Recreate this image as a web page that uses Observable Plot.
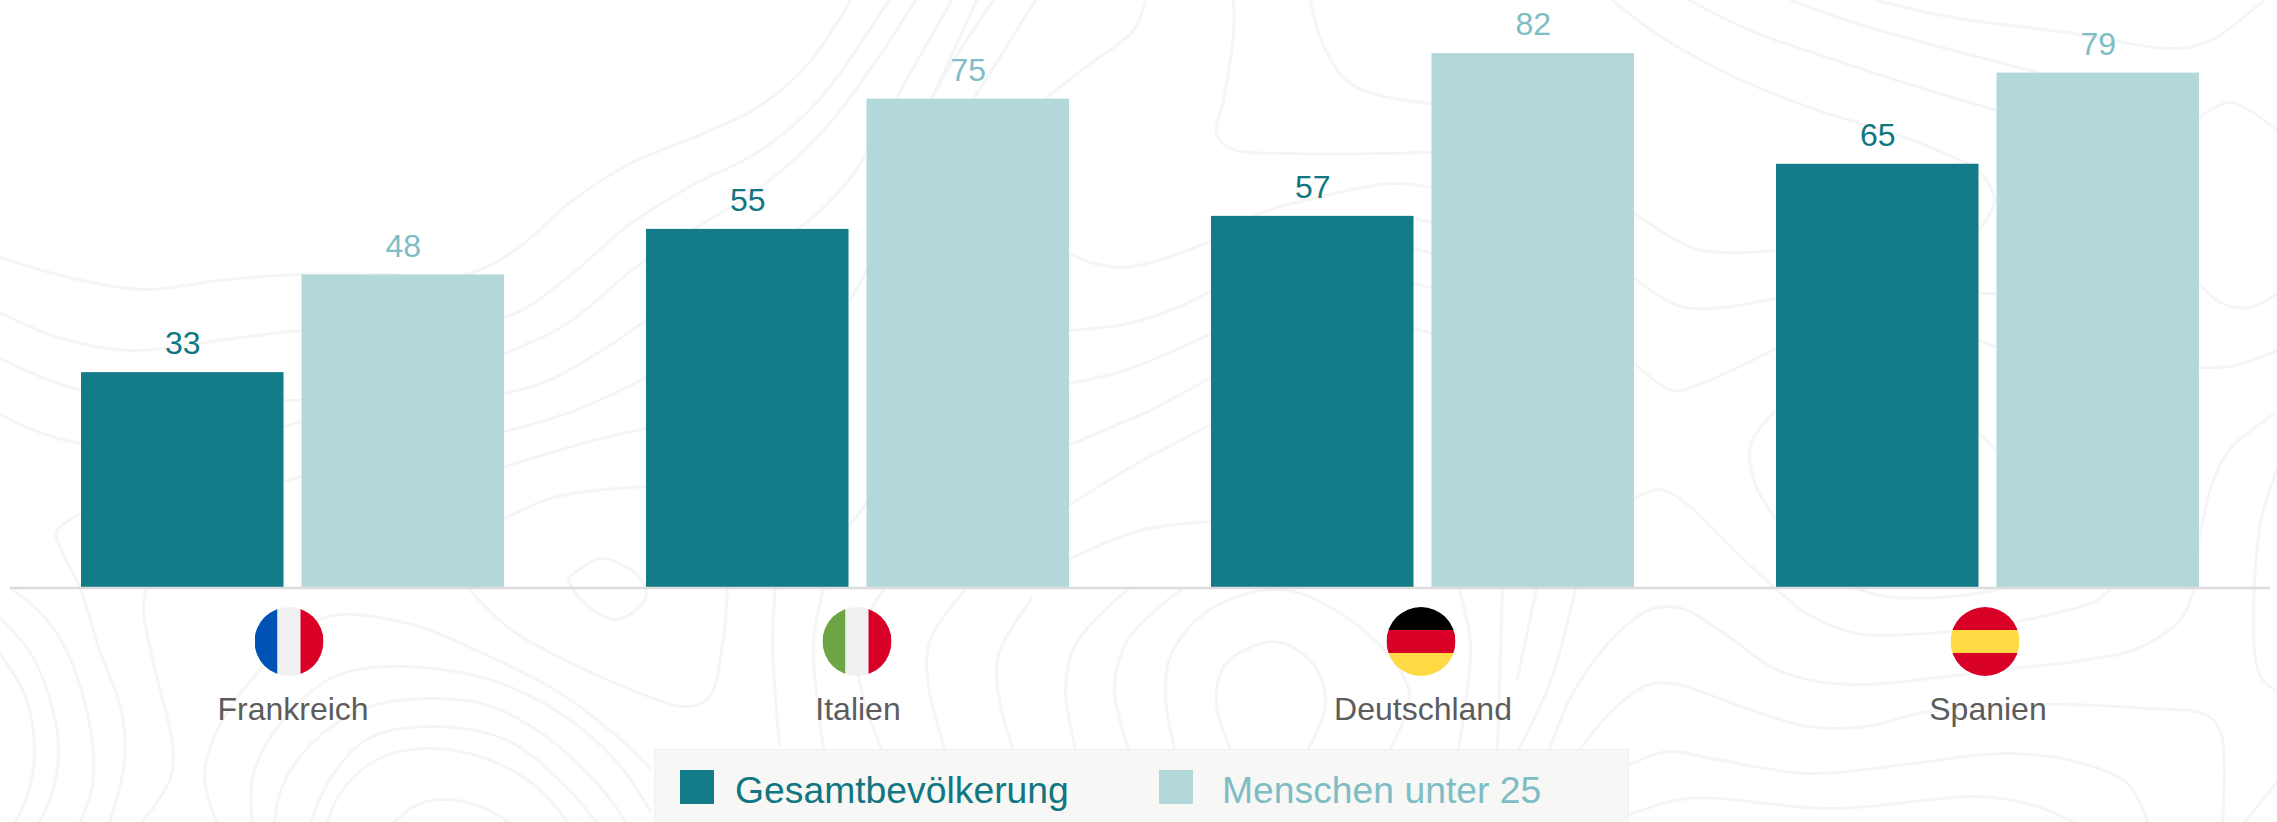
<!DOCTYPE html>
<html lang="de">
<head>
<meta charset="utf-8">
<script src="https://cdn.jsdelivr.net/npm/d3@7"></script>
<script src="https://cdn.jsdelivr.net/npm/@observablehq/plot@0.6"></script>
<style>
  html, body { margin: 0; padding: 0; width: 2277px; height: 822px; overflow: hidden; background: #fff; }
  #wrap { position: relative; width: 2277px; height: 822px; overflow: hidden; font-family: "Liberation Sans", Arial, sans-serif; }
  #wrap svg { display: block; position: absolute; left: 0; top: 0; }
  #legend { position: absolute; left: 654px; top: 749px; width: 975px; height: 73px; background: #f7f7f5; border: 1px solid #f0f0ee; border-bottom: none; box-sizing: border-box; }
  .sw { position: absolute; width: 34px; height: 34px; top: 20px; }
  .lt { position: absolute; top: 14px; font-size: 37.3px; line-height: 52px; white-space: nowrap; }
</style>
</head>
<body>
<div id="wrap"></div>
<script>
const countries = ["Frankreich", "Italien", "Deutschland", "Spanien"];
const gesamt = [33, 55, 57, 65];
const unter25 = [48, 75, 82, 79];
const seriesNames = ["Gesamtbevölkerung", "Menschen unter 25"];
const barColors = ["#147b88", "#b3d8da"];
const textColors = ["#0f7682", "#7fbdc5"];
const flagStripes = {
  Frankreich: ["v", "#0052b4", "#f0f0f0", "#d80027"],
  Italien: ["v", "#6da544", "#f0f0f0", "#d80027"],
  Deutschland: ["h", "#000000", "#d80027", "#ffda44"],
  Spanien: ["h", "#d80027", "#ffda44", "#d80027"]
};
const flagNudge = [-4, -1, -2, -3];

// decorative topographic background (page pixels)
const contours = [
  [[0,257],[73,278],[145,289],[218,280],[300,274],[388,274],[465,274],[514,250],[572,200],[630,163],[703,133],[760,105],[808,63],[850,0]],
  [[0,312],[58,337],[131,350],[218,340],[300,330],[504,317],[567,277],[625,227],[688,187],[760,150],[818,100],[888,0]],
  [[504,393],[548,380],[606,347],[650,317],[760,245],[799,227],[850,177],[896,97],[951,0]],
  [[504,353],[567,323],[635,267],[703,223],[760,187],[823,130],[876,60],[915,0]],
  [[0,358],[82,390],[300,400]],
  [[850,300],[895,210],[932,97],[993,0]],
  [[932,97],[976,0]],
  [[974,97],[1035,0]],
  [[1046,97],[1090,63],[1133,30],[1145,0]],
  [[0,414],[29,428],[80,443],[200,445],[301,421]],
  [[504,431],[572,411],[646,377]],
  [[504,466],[601,438],[645,428]],
  [[284,481],[301,476]],
  [[504,518],[557,496],[645,486]],
  [[567,578],[601,558],[640,578],[645,598],[616,619],[582,601],[567,578]],
  [[80,513],[56,531],[63,554],[80,588],[97,644],[121,711],[124,761],[109,822]],
  [[10,588],[39,611],[63,644],[82,694],[92,744],[92,784],[80,822]],
  [[0,618],[29,651],[48,694],[58,744],[53,788],[39,822]],
  [[0,654],[24,694],[34,744],[29,788],[15,822]],
  [[145,591],[143,611],[155,671],[172,744],[170,778],[141,822]],
  [[216,822],[204,778],[213,738],[252,678],[310,624],[339,614],[412,624],[485,654],[557,691],[611,731],[650,768]],
  [[252,822],[252,778],[276,728],[330,678],[388,666],[485,678],[557,711],[616,761],[650,811]],
  [[274,822],[281,788],[310,744],[364,708],[427,698],[485,704],[548,738],[606,794],[625,822]],
  [[310,822],[330,778],[368,738],[436,726],[509,741],[567,788],[596,822]],
  [[327,822],[339,794],[373,761],[422,748],[485,758],[538,788],[567,822]],
  [[393,822],[417,804],[446,799],[485,808],[509,822]],
  [[468,588],[509,628],[582,668],[654,698],[683,706],[708,698],[722,644],[727,588]],
  [[775,588],[772,644],[779,744]],
  [[823,588],[813,644],[823,748]],
  [[884,588],[857,638],[862,694],[881,748]],
  [[966,588],[930,638],[927,678],[944,748]],
  [[1031,598],[998,654],[998,694],[1012,748]],
  [[1128,588],[1075,644],[1065,688],[1075,748]],
  [[1182,588],[1128,638],[1114,688],[1128,748]],
  [[1174,748],[1165,694],[1172,651],[1211,608],[1279,589],[1332,608],[1385,651],[1409,694],[1390,748]],
  [[1230,748],[1216,704],[1225,664],[1274,641],[1313,664],[1325,704],[1308,748]],
  [[1458,588],[1470,644],[1458,748]],
  [[1502,588],[1497,748]],
  [[1070,444],[1148,411]],
  [[1070,504],[1128,468],[1211,424]],
  [[1070,558],[1140,530],[1211,521]],
  [[850,524],[867,501]],
  [[1069,253],[1090,262],[1124,267],[1157,260],[1211,240],[1259,213],[1317,197],[1390,183],[1431,187]],
  [[1069,330],[1128,323],[1177,307],[1211,290]],
  [[1069,383],[1124,370],[1211,333]],
  [[1148,411],[1211,377]],
  [[1414,218],[1431,222]],
  [[1414,248],[1431,253]],
  [[1414,283],[1431,287]],
  [[1414,328],[1431,333]],
  [[1233,0],[1233,33],[1223,100],[1216,133],[1230,148],[1293,153],[1431,152]],
  [[1310,0],[1322,43],[1346,80],[1380,95],[1431,103]],
  [[1612,0],[1662,37],[1735,77],[1818,110],[1905,137],[1953,157],[1978,170],[1994,200],[1978,230]],
  [[1689,0],[1750,30],[1827,57],[1919,87],[1997,110]],
  [[1791,0],[1856,23],[1953,50],[2038,72]],
  [[1876,0],[1953,17],[2074,33],[2171,48],[2210,40],[2263,0]],
  [[2199,117],[2230,102],[2277,130]],
  [[2199,283],[2220,302],[2249,307],[2277,293]],
  [[1634,213],[1691,247],[1725,252],[1775,250]],
  [[1634,278],[1677,305],[1711,308],[1775,298]],
  [[1978,293],[1997,293]],
  [[1634,363],[1672,390],[1701,383],[1775,348]],
  [[1978,340],[1997,347]],
  [[2199,367],[2234,365],[2277,350]],
  [[1634,498],[1660,489],[1687,504],[1735,551],[1775,588],[1808,614],[1856,633],[1905,634],[1977,628],[2050,614],[2094,601],[2111,588]],
  [[1774,411],[1750,444],[1755,484],[1775,518]],
  [[1536,588],[1517,678]],
  [[1575,588],[1551,678],[1517,751]],
  [[1549,748],[1575,688],[1619,631],[1653,608],[1682,608],[1725,634],[1774,668],[1817,681],[1866,684],[1929,678],[2002,669],[2074,661],[2137,648],[2181,618],[2193,588]],
  [[1580,748],[1614,708],[1648,684],[1677,684],[1735,704],[1808,726],[1866,726],[1929,711],[2050,704],[2147,708],[2205,714],[2220,731],[2222,822]],
  [[1630,764],[1667,751],[1711,758],[1808,773],[1905,764],[2002,753],[2074,761],[2128,784],[2147,822]],
  [[1630,814],[1687,798],[1832,808],[1977,796],[2031,804],[2074,822]],
  [[2191,588],[2210,488],[2230,448],[2273,414]],
  [[2277,468],[2259,528],[2259,674],[2277,691]],
  [[2244,822],[2277,781]],
  [[1977,431],[1997,451]],
  [[1856,588],[1885,596],[1953,596],[2002,588]]
];

const rows = countries.flatMap((c, i) => [
  {country: c, series: seriesNames[0], value: gesamt[i]},
  {country: c, series: seriesNames[1], value: unter25[i]}
]);

function flagSrc(name) {
  const [dir, a, b, c] = flagStripes[name];
  const s = 69, t = s / 3;
  const r = (i, col) => dir === "v"
    ? `<rect x="${i * t}" y="0" width="${t}" height="${s}" fill="${col}"/>`
    : `<rect x="0" y="${i * t}" width="${s}" height="${t}" fill="${col}"/>`;
  const svg = `<svg xmlns="http://www.w3.org/2000/svg" width="${s}" height="${s}" viewBox="0 0 ${s} ${s}"><defs><clipPath id="c"><circle cx="${s/2}" cy="${s/2}" r="${s/2}"/></clipPath></defs><g clip-path="url(#c)">${r(0,a)}${r(1,b)}${r(2,c)}</g></svg>`;
  return "data:image/svg+xml;charset=utf-8," + encodeURIComponent(svg);
}

const backdrop = Plot.plot({
  width: 2277,
  height: 822,
  margin: 0,
  style: {background: "#fff"},
  x: {domain: [0, 2277], range: [0, 2277], axis: null},
  y: {domain: [0, 822], range: [0, 822], axis: null},
  marks: contours.map(pts => Plot.line(pts, {
    x: d => d[0],
    y: d => d[1],
    curve: "catmull-rom",
    stroke: "#f5f5f5",
    strokeWidth: 3
  }))
});

const chart = Plot.plot({
  width: 2277,
  height: 822,
  marginTop: 1,
  marginBottom: 235,
  marginLeft: 81,
  marginRight: 78,
  style: {fontFamily: '"Liberation Sans", Arial, sans-serif', background: "transparent", overflow: "visible"},
  fx: {domain: countries, paddingInner: 0.2513, paddingOuter: 0, round: false, label: null},
  x: {domain: seriesNames, paddingInner: 0.0816, paddingOuter: 0, round: false, axis: null},
  y: {domain: [0, 90], axis: null},
  color: {domain: seriesNames, range: barColors},
  marks: [
    Plot.barY(rows, {fx: "country", x: "series", y: "value", fill: "series"}),
    ...seriesNames.map((s, i) => Plot.text(rows.filter(d => d.series === s), {
      fx: "country", x: "series", y: "value", text: d => String(d.value),
      fill: textColors[i], fontSize: 32, dy: -28.5
    })),
    Plot.ruleY([0], {stroke: "#dcdcdc", strokeWidth: 2.5, dy: 0.5, insetLeft: -71, insetRight: -71}),
    ...countries.map((c, i) => Plot.image([c], {
      fx: d => d, frameAnchor: "bottom", src: flagSrc(c), width: 69, height: 69, dy: 54, dx: flagNudge[i]
    })),
    Plot.axisFx({anchor: "bottom", tickSize: 0, tickPadding: 110, fontSize: 32, fill: "#5c5c5c", label: null})
  ]
});

const wrap = document.getElementById("wrap");
wrap.append(backdrop, chart);

const legend = document.createElement("div");
legend.id = "legend";
const swatchX = [25, 504];
const labelX = [80, 567];
seriesNames.forEach((s, i) => {
  const sw = document.createElement("div");
  sw.className = "sw";
  sw.style.left = swatchX[i] + "px";
  sw.style.background = barColors[i];
  const t = document.createElement("div");
  t.className = "lt";
  t.style.left = labelX[i] + "px";
  t.style.color = textColors[i];
  t.textContent = s;
  legend.append(sw, t);
});
wrap.appendChild(legend);
</script>
</body>
</html>
